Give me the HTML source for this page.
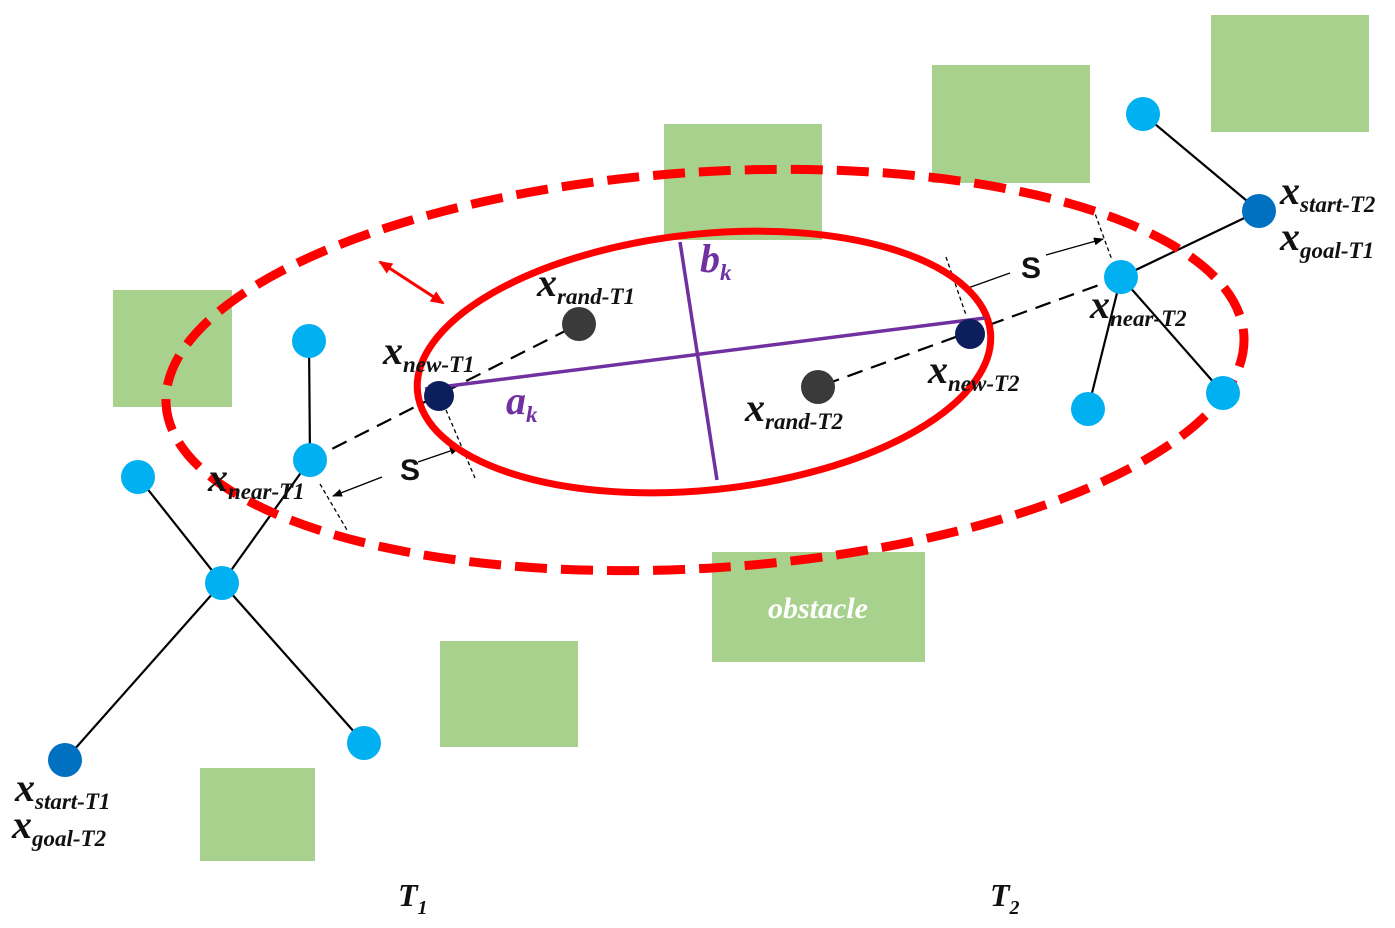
<!DOCTYPE html>
<html><head><meta charset="utf-8"><style>
body{margin:0;background:#fff;}
svg{display:block}
text{font-family:"Liberation Serif",serif;font-weight:bold;font-style:italic;fill:#111}
.x{font-size:40px;font-weight:bold}
.s{font-size:23px}
</style></head><body>
<svg width="1395" height="928" viewBox="0 0 1395 928" xmlns="http://www.w3.org/2000/svg">
<defs>
<marker id="ab" markerWidth="10" markerHeight="8" refX="9" refY="4" orient="auto" markerUnits="userSpaceOnUse"><path d="M0,0 L10,4 L0,8 Z" fill="#000"/></marker>
<marker id="ar" markerWidth="14" markerHeight="12" refX="12" refY="6" orient="auto-start-reverse" markerUnits="userSpaceOnUse"><path d="M0,0 L14,6 L0,12 Z" fill="#f00"/></marker>
</defs>
<g fill="#a9d18e">
<rect x="1211" y="15" width="158" height="117"/>
<rect x="932" y="65" width="158" height="118"/>
<rect x="664" y="124" width="158" height="116"/>
<rect x="113" y="290" width="119" height="117"/>
<rect x="712" y="552" width="213" height="110"/>
<rect x="440" y="641" width="138" height="106"/>
<rect x="200" y="768" width="115" height="93"/>
</g>
<text x="818" y="618" text-anchor="middle" style="font-size:30px;fill:#fff">obstacle</text>
<g stroke="#000" stroke-width="2.2" fill="none">
<line x1="309" y1="341" x2="310" y2="460"/>
<polyline points="138,477 222,583 364,743"/>
<polyline points="310,460 222,583 65,760"/>
<line x1="1143" y1="114" x2="1259" y2="211"/>
<line x1="1259" y1="211" x2="1121" y2="277"/>
<line x1="1121" y1="277" x2="1088" y2="409"/>
<line x1="1121" y1="277" x2="1223" y2="393"/>
</g>
<g stroke="#000" stroke-width="2.2" fill="none" stroke-dasharray="16,9">
<line x1="310" y1="460" x2="579" y2="324"/>
<line x1="1121" y1="277" x2="818" y2="387"/>
</g>
<g stroke="#000" stroke-width="1.3" fill="none" stroke-dasharray="4,3">
<line x1="320" y1="484" x2="347" y2="530"/>
<line x1="446" y1="410" x2="475" y2="478"/>
<line x1="946" y1="257" x2="966" y2="315"/>
<line x1="1093" y1="208" x2="1112" y2="260"/>
</g>
<g stroke="#000" stroke-width="1.3" fill="none">
<line x1="382" y1="477" x2="333" y2="496" marker-end="url(#ab)"/>
<line x1="418" y1="462" x2="459" y2="448" marker-end="url(#ab)"/>
<line x1="968" y1="288" x2="1010" y2="273"/>
<line x1="1046" y1="255" x2="1103" y2="239" marker-end="url(#ab)"/>
</g>
<text x="400" y="480" style="font-size:30px;font-style:normal;font-family:'Liberation Sans',sans-serif">S</text>
<text x="1021" y="278" style="font-size:30px;font-style:normal;font-family:'Liberation Sans',sans-serif">S</text>
<ellipse cx="705" cy="370" rx="540" ry="198" transform="rotate(-3.7 705 370)" fill="none" stroke="#f00" stroke-width="9" stroke-dasharray="32,14"/>
<ellipse cx="704" cy="362" rx="288" ry="128" transform="rotate(-6 704 362)" fill="none" stroke="#f00" stroke-width="7"/>
<line x1="380" y1="262" x2="443" y2="303" stroke="#f00" stroke-width="3" marker-start="url(#ar)" marker-end="url(#ar)"/>
<g stroke="#7030a0" stroke-width="3.5">
<line x1="425" y1="389" x2="985" y2="318"/>
<line x1="680" y1="242" x2="717" y2="480"/>
</g>
<g fill="#00b0f0">
<circle cx="309" cy="341" r="17"/><circle cx="310" cy="460" r="17"/><circle cx="138" cy="477" r="17"/>
<circle cx="222" cy="583" r="17"/><circle cx="364" cy="743" r="17"/><circle cx="1143" cy="114" r="17"/>
<circle cx="1121" cy="277" r="17"/><circle cx="1088" cy="409" r="17"/><circle cx="1223" cy="393" r="17"/>
</g>
<g fill="#0070c0"><circle cx="65" cy="760" r="17"/><circle cx="1259" cy="211" r="17"/></g>
<g fill="#0c1f5c"><circle cx="439" cy="396" r="15"/><circle cx="970" cy="334" r="15"/></g>
<g fill="#3a3a3a"><circle cx="579" cy="324" r="17"/><circle cx="818" cy="387" r="17"/></g>
<text x="537" y="296"><tspan class="x">x</tspan><tspan class="s" dy="8">rand-T1</tspan></text>
<text x="383" y="364"><tspan class="x">x</tspan><tspan class="s" dy="8">new-T1</tspan></text>
<text x="745" y="421"><tspan class="x">x</tspan><tspan class="s" dy="8">rand-T2</tspan></text>
<text x="928" y="383"><tspan class="x">x</tspan><tspan class="s" dy="8">new-T2</tspan></text>
<text x="208" y="491"><tspan class="x">x</tspan><tspan class="s" dy="8">near-T1</tspan></text>
<text x="1090" y="318"><tspan class="x">x</tspan><tspan class="s" dy="8">near-T2</tspan></text>
<text x="1280" y="204"><tspan class="x">x</tspan><tspan class="s" dy="8">start-T2</tspan></text>
<text x="1280" y="250"><tspan class="x">x</tspan><tspan class="s" dy="8">goal-T1</tspan></text>
<text x="15" y="801"><tspan class="x">x</tspan><tspan class="s" dy="8">start-T1</tspan></text>
<text x="12" y="838"><tspan class="x">x</tspan><tspan class="s" dy="8">goal-T2</tspan></text>
<text x="506" y="414"><tspan class="x" style="fill:#7030a0">a</tspan><tspan class="s" dy="8" style="fill:#7030a0">k</tspan></text>
<text x="700" y="272"><tspan class="x" style="fill:#7030a0">b</tspan><tspan class="s" dy="8" style="fill:#7030a0">k</tspan></text>
<text x="398" y="906"><tspan style="font-size:32px">T</tspan><tspan dy="8" style="font-size:20px">1</tspan></text>
<text x="990" y="906"><tspan style="font-size:32px">T</tspan><tspan dy="8" style="font-size:20px">2</tspan></text>
</svg>
</body></html>
